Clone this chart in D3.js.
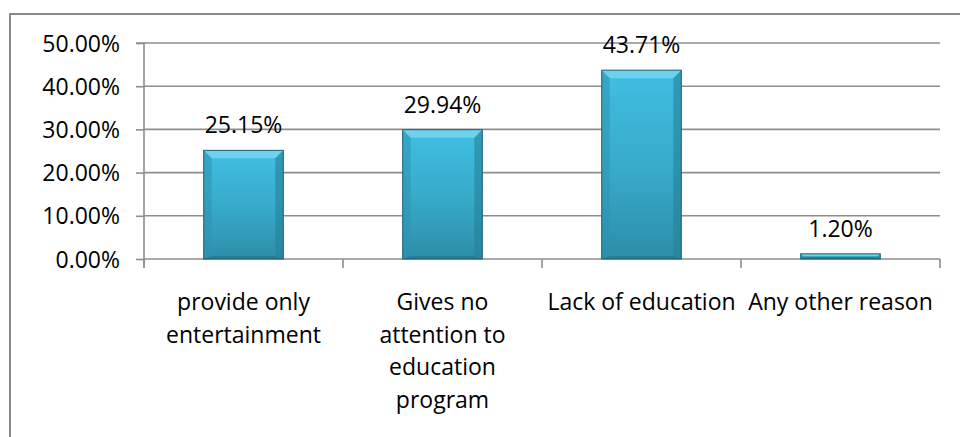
<!DOCTYPE html>
<html>
<head>
<meta charset="utf-8">
<script src="https://cdn.jsdelivr.net/npm/d3@7/dist/d3.min.js"></script>
<style>
  html, body { margin: 0; padding: 0; background: #ffffff; }
  svg { display: block; }
  text { font-family: "Open Sans", "Liberation Sans", sans-serif; fill: #000; }
</style>
</head>
<body>
<svg id="chart" width="960" height="437"></svg>
<script>
// Reasons and their shares (percent)
const categories = [
  "provide only entertainment",
  "Gives no attention to education program",
  "Lack of education",
  "Any other reason"
];
const categoryLines = [
  ["provide only", "entertainment"],
  ["Gives no", "attention to", "education", "program"],
  ["Lack of education"],
  ["Any other reason"]
];
const values = [25.15, 29.94, 43.71, 1.20];
const yTicks = [0, 10, 20, 30, 40, 50];
const yTickLabels = ["0.00%", "10.00%", "20.00%", "30.00%", "40.00%", "50.00%"];

const svg = d3.select("#chart");
const W = 960, H = 437;
const plot = { left: 144, right: 940, top: 43, bottom: 259 };

// Outer chart frame (runs off the right and bottom edges)
svg.append("rect")
  .attr("x", 10).attr("y", 14)
  .attr("width", W + 20).attr("height", H + 20)
  .attr("fill", "#fff")
  .attr("stroke", "#8a8a8a").attr("stroke-width", 2);

const x = d3.scaleBand()
  .domain(categories)
  .range([plot.left, plot.right])
  .paddingInner(0.6)
  .paddingOuter(0.3);

const y = d3.scaleLinear().domain([0, 50]).range([plot.bottom, plot.top]);

// Horizontal gridlines
svg.append("g")
  .selectAll("line")
  .data(yTicks)
  .join("line")
  .attr("x1", plot.left).attr("x2", plot.right)
  .attr("y1", d => y(d)).attr("y2", d => y(d))
  .attr("stroke", "#8e8e8e").attr("stroke-width", 1.6);

// Y axis
const yAxis = d3.axisLeft(y)
  .tickValues(yTicks)
  .tickSize(8)
  .tickPadding(16)
  .tickFormat((d, i) => yTickLabels[i]);
const gy = svg.append("g").attr("transform", `translate(${plot.left},0)`).call(yAxis);
gy.select(".domain").attr("stroke", "#8e8e8e").attr("stroke-width", 1.6)
  .attr("d", `M-8,${y(50)}H0V${y(0) + 8}`);
gy.selectAll(".tick line").attr("stroke", "#8e8e8e").attr("stroke-width", 1.6);
gy.selectAll(".tick text")
  .attr("font-size", 23)
  .attr("dy", "0.35em")
  .style("font-family", "'Open Sans', sans-serif")
  .attr("fill", "#000");

// X axis: tick marks at category boundaries
const step = x.step();
const boundaries = d3.range(categories.length + 1).map(i => plot.left + i * step);
svg.append("g")
  .selectAll("line")
  .data(boundaries)
  .join("line")
  .attr("x1", d => d).attr("x2", d => d)
  .attr("y1", y(0)).attr("y2", y(0) + 9)
  .attr("stroke", "#8e8e8e").attr("stroke-width", 1.6);

// Bar gradient and bevel shading
const defs = svg.append("defs");
const grad = defs.append("linearGradient").attr("id", "barFill")
  .attr("x1", 0).attr("y1", 0).attr("x2", 0).attr("y2", 1);
grad.append("stop").attr("offset", "0%").attr("stop-color", "#40bfe2");
grad.append("stop").attr("offset", "50%").attr("stop-color", "#38abcb");
grad.append("stop").attr("offset", "100%").attr("stop-color", "#2d8ea8");

const bars = svg.append("g")
  .selectAll("g")
  .data(categories.map((c, i) => ({ c, v: values[i] })))
  .join("g");

bars.each(function(d) {
  const g = d3.select(this);
  const x0 = x(d.c), x1 = x0 + x.bandwidth();
  const y0 = y(d.v), y1 = y(0);
  const h = y1 - y0;
  const b = Math.min(8, h / 2, x.bandwidth() / 2);
  const bb = Math.min(3, h / 2);
  g.append("rect")
    .attr("x", x0).attr("y", y0)
    .attr("width", x1 - x0).attr("height", h)
    .attr("fill", "url(#barFill)");
  // top bevel
  g.append("path")
    .attr("d", `M${x0},${y0}L${x1},${y0}L${x1 - b},${y0 + b}L${x0 + b},${y0 + b}Z`)
    .attr("fill", "#7ad6f0").attr("opacity", 0.8);
  // left bevel
  g.append("path")
    .attr("d", `M${x0},${y0}L${x0 + b},${y0 + b}L${x0 + b},${y1 - bb}L${x0},${y1}Z`)
    .attr("fill", "#2e93b0").attr("opacity", 0.55);
  // right bevel
  g.append("path")
    .attr("d", `M${x1},${y0}L${x1 - b},${y0 + b}L${x1 - b},${y1 - bb}L${x1},${y1}Z`)
    .attr("fill", "#26809a").attr("opacity", 0.6);
  // bottom edge
  g.append("path")
    .attr("d", `M${x0},${y1}L${x0 + b},${y1 - bb}L${x1 - b},${y1 - bb}L${x1},${y1}Z`)
    .attr("fill", "#226f86").attr("opacity", 0.6);
  g.append("rect")
    .attr("x", x0).attr("y", y0)
    .attr("width", x1 - x0).attr("height", h)
    .attr("fill", "none")
    .attr("stroke", "#1e6275").attr("stroke-width", 1);
});

// Value labels
svg.append("g")
  .selectAll("text")
  .data(values)
  .join("text")
  .attr("x", (d, i) => x(categories[i]) + x.bandwidth() / 2)
  .attr("y", d => y(d) - 17)
  .attr("text-anchor", "middle")
  .attr("font-size", 23)
  .text(d => d.toFixed(2) + "%");

// Category labels
const catG = svg.append("g");
categoryLines.forEach((lines, i) => {
  const cx = x(categories[i]) + x.bandwidth() / 2;
  const t = catG.append("text")
    .attr("text-anchor", "middle")
    .attr("font-size", 23)
    .attr("transform", `translate(${cx},310)`);
  lines.forEach((ln, j) => {
    t.append("tspan").attr("x", 0).attr("y", j * 32.5).text(ln);
  });
});
</script>
</body>
</html>
